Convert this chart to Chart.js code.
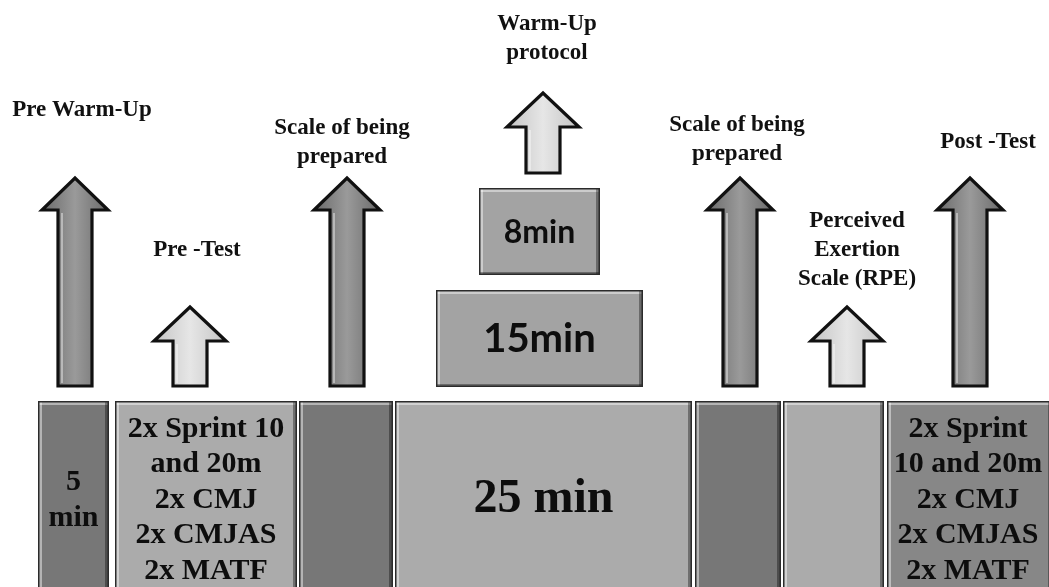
<!DOCTYPE html>
<html>
<head>
<meta charset="utf-8">
<script src="https://cdn.jsdelivr.net/npm/chart.js@4/dist/chart.umd.min.js"></script>
<style>
  html, body { margin: 0; padding: 0; background: #fff; }
  #wrap { width: 1049px; height: 587px; }
</style>
</head>
<body>
<div id="wrap"><canvas id="c" width="1049" height="587"></canvas></div>
<script>
/* ---- Timeline stages (bottom row), in axis units ---- */
const stageFrom = [38, 115, 299, 395, 695, 783, 887];
const stageTo   = [109, 297, 393, 692, 781, 884, 1052];
const stageText = [
  ['5', 'min'],
  ['2x Sprint 10', 'and 20m', '2x CMJ', '2x CMJAS', '2x MATF'],
  [],
  ['25 min'],
  [],
  [],
  ['2x Sprint', '10 and 20m', '2x CMJ', '2x CMJAS', '2x MATF'],
];
const stageTone = ['dark', 'light', 'dark', 'light', 'dark', 'light', 'mid'];

/* ---- Warm-up protocol blocks ---- */
const blockText = ['8min', '15min'];
const blockFrom = [479, 436];
const blockTo   = [600, 643];
const blockTop  = [188, 290];
const blockBot  = [275, 387];

/* ---- Arrows ---- */
const arrowX    = [75, 190, 347, 543, 740, 847, 970];
const arrowTip  = [178, 307, 178, 93, 178, 307, 178];
const arrowBase = [386, 386, 386, 173, 386, 386, 386];
const arrowTone = ['dark', 'light', 'dark', 'light', 'dark', 'light', 'dark'];

/* ---- Captions (y = middle of the text block) ---- */
const captionText = [
  ['Pre Warm-Up'],
  ['Pre -Test'],
  ['Scale of being', 'prepared'],
  ['Warm-Up', 'protocol'],
  ['Scale of being', 'prepared'],
  ['Perceived', 'Exertion', 'Scale (RPE)'],
  ['Post -Test'],
];
const captionX = [82, 197, 342, 547, 737, 857, 988];
const captionY = [110, 250, 143, 39, 140, 250, 142];

const FILL = { dark: '#777777', light: '#ababab', mid: '#878787' };
const SERIF = '"Liberation Serif", "Times New Roman", serif';

function bevelBox(ctx, x0, y0, x1, y1, fill) {
  ctx.fillStyle = fill;
  ctx.fillRect(x0, y0, x1 - x0, y1 - y0);
  // highlight top + left
  ctx.fillStyle = 'rgba(255,255,255,0.45)';
  ctx.fillRect(x0, y0, x1 - x0, 4);
  ctx.fillRect(x0, y0, 4, y1 - y0);
  // shade right + bottom
  ctx.fillStyle = 'rgba(0,0,0,0.35)';
  ctx.fillRect(x1 - 4, y0, 4, y1 - y0);
  ctx.fillRect(x0, y1 - 3, x1 - x0, 3);
  ctx.strokeStyle = '#2b2b2b';
  ctx.lineWidth = 1.5;
  ctx.strokeRect(x0 + 0.75, y0 + 0.75, x1 - x0 - 1.5, y1 - y0 - 1.5);
}

function arrow(ctx, cx, tip, base, tone) {
  const big = tone === 'dark';
  const headHalf = big ? 33 : 36;
  const shaftHalf = 17;
  const headLen = big ? 32 : 34;
  const hb = tip + headLen;
  ctx.beginPath();
  ctx.moveTo(cx - shaftHalf, base);
  ctx.lineTo(cx - shaftHalf, hb);
  ctx.lineTo(cx - headHalf, hb);
  ctx.lineTo(cx, tip);
  ctx.lineTo(cx + headHalf, hb);
  ctx.lineTo(cx + shaftHalf, hb);
  ctx.lineTo(cx + shaftHalf, base);
  ctx.closePath();
  const g = ctx.createLinearGradient(cx - headHalf, 0, cx + headHalf, 0);
  if (big) {
    g.addColorStop(0, '#6a6a6a'); g.addColorStop(0.5, '#9a9a9a'); g.addColorStop(1, '#6a6a6a');
  } else {
    g.addColorStop(0, '#c4c4c4'); g.addColorStop(0.5, '#e6e6e6'); g.addColorStop(1, '#c4c4c4');
  }
  ctx.fillStyle = g;
  ctx.fill();
  ctx.lineJoin = 'miter';
  ctx.lineWidth = 3.2;
  ctx.strokeStyle = '#111';
  ctx.stroke();
  // inner bevel on shaft
  ctx.strokeStyle = 'rgba(255,255,255,0.55)';
  ctx.lineWidth = 1.5;
  ctx.beginPath();
  ctx.moveTo(cx - shaftHalf + 4, base - 3);
  ctx.lineTo(cx - shaftHalf + 4, hb + 3);
  ctx.stroke();
}

function textLines(ctx, lines, x, yCenter, lh) {
  const y0 = yCenter - (lines.length - 1) * lh / 2;
  lines.forEach((t, i) => ctx.fillText(t, x, y0 + i * lh));
}

const diagram = {
  id: 'diagram',
  afterDatasetsDraw(chart) {
    const { ctx, scales: { x, y } } = chart;
    ctx.save();

    // bottom row
    stageFrom.forEach((f, i) => {
      const x0 = x.getPixelForValue(f), x1 = x.getPixelForValue(stageTo[i]);
      const y0 = y.getPixelForValue(401), y1 = y.getPixelForValue(590);
      bevelBox(ctx, x0, y0, x1, y1, FILL[stageTone[i]]);
    });
    ctx.fillStyle = '#0d0d0d';
    ctx.textAlign = 'center';
    ctx.textBaseline = 'middle';
    stageText.forEach((lines, i) => {
      if (!lines.length) return;
      const cx = x.getPixelForValue((stageFrom[i] + Math.min(stageTo[i], 1049)) / 2);
      const size = lines.length === 1 ? 48 : 30;
      ctx.font = 'bold ' + size + 'px ' + SERIF;
      textLines(ctx, lines, cx, y.getPixelForValue(500), 35.5);
    });

    // warm-up blocks
    blockText.forEach((t, i) => {
      const x0 = x.getPixelForValue(blockFrom[i]), x1 = x.getPixelForValue(blockTo[i]);
      const y0 = y.getPixelForValue(blockTop[i]), y1 = y.getPixelForValue(blockBot[i]);
      bevelBox(ctx, x0, y0, x1, y1, '#a3a3a3');
      ctx.fillStyle = '#0d0d0d';
      ctx.font = 'bold ' + (i === 0 ? 32 : 40) + 'px Lato, "Open Sans", sans-serif';
      ctx.fillText(t, (x0 + x1) / 2, (y0 + y1) / 2 + 1);
    });

    // arrows
    arrowX.forEach((ax, i) => {
      arrow(ctx, x.getPixelForValue(ax), y.getPixelForValue(arrowTip[i]),
        y.getPixelForValue(arrowBase[i]), arrowTone[i]);
    });

    // captions
    ctx.fillStyle = '#111';
    ctx.font = 'bold 23px ' + SERIF;
    captionText.forEach((lines, i) => {
      textLines(ctx, lines, x.getPixelForValue(captionX[i]), y.getPixelForValue(captionY[i]), 29);
    });

    ctx.restore();
  },
};

new Chart(document.getElementById('c'), {
  type: 'scatter',
  data: {
    datasets: [{
      label: 'arrow tips',
      data: arrowX.map((v, i) => ({ x: v, y: arrowTip[i] })),
      pointRadius: 0,
    }],
  },
  options: {
    responsive: false,
    animation: false,
    layout: { padding: 0 },
    plugins: { legend: { display: false }, tooltip: { enabled: false } },
    scales: {
      x: { type: 'linear', min: 0, max: 1049, display: false },
      y: { type: 'linear', min: 0, max: 587, reverse: true, display: false },
    },
  },
  plugins: [diagram],
});
</script>
</body>
</html>
